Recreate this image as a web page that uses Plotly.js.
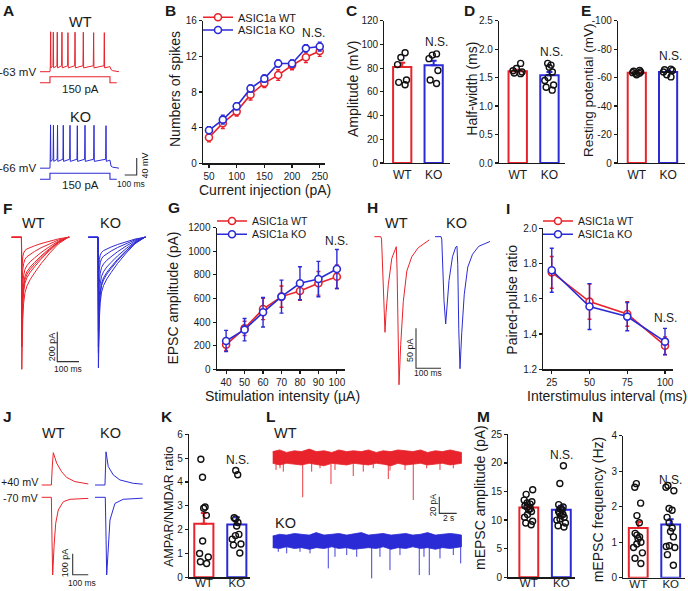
<!DOCTYPE html>
<html><head><meta charset="utf-8">
<script src="https://cdn.plot.ly/plotly-3.0.1.min.js"></script>
<style>html,body{margin:0;padding:0;background:#fff;}#chart{width:688px;height:591px;}</style>
</head><body><div id="chart"></div>
<script>
// ================= DATA =================
// A: evoked firing (time ms, membrane potential mV), 150 pA step
const A_WT_SPIKE_T = [89, 111, 144, 183, 233, 292, 361, 447, 536];
const A_WT_SPIKE_PEAK = [31, 30, 30, 30, 29, 30, 30, 29, 29];
const A_KO_SPIKE_T = [88, 112, 146, 194, 250, 311, 375, 450, 550];
const A_KO_SPIKE_PEAK = [36, 35, 35, 35, 35, 34, 35, 35, 34];
const A_REST = [-63, -66];
const A_INTERSPIKE = [-49, -45];
const A_STEP_T = [0, 83, 83, 583, 583, 640];
const A_STEP_PA = [0, 0, 150, 150, 0, 0];
const A_SCALE = [100, 40];          // ms, mV

// B: spikes vs current injection
const B_CURRENT = [50, 75, 100, 125, 150, 175, 200, 225, 250];
const B_WT = [2.9, 4.5, 5.8, 7.7, 9.0, 9.9, 11.0, 11.9, 12.6];
const B_WT_SEM = [0.5, 0.6, 0.5, 0.6, 0.5, 0.6, 0.5, 0.6, 0.6];
const B_KO = [3.7, 4.9, 6.4, 8.4, 9.5, 11.2, 11.2, 12.9, 13.1];
const B_KO_SEM = [0.4, 0.5, 0.4, 0.4, 0.4, 0.4, 0.4, 0.4, 0.5];

const GROUPS = ['WT', 'KO'];
const SERIES = ['ASIC1a WT', 'ASIC1a KO'];
// C: AP amplitude (mV)
const C_MEAN = [81, 82.5], C_SEM = [3.5, 3.8];
const C_WT = [93, 89, 83, 70, 68, 66];
const C_KO = [92, 91, 88, 78, 70, 67];
// D: half-width (ms)
const D_MEAN = [1.61, 1.54], D_SEM = [0.03, 0.06];
const D_WT = [1.75, 1.66, 1.62, 1.6, 1.58, 1.57];
const D_KO = [1.75, 1.72, 1.68, 1.6, 1.5, 1.45, 1.37, 1.33, 1.28];
// E: resting potential (mV)
const E_MEAN = [-63.5, -64], E_SEM = [0.5, 0.9];
const E_WT = [-62, -63, -63.5, -64, -64.5, -65, -63];
const E_KO = [-66, -65.5, -65, -64, -62, -60.5];

// F: EPSC families (pA), normalized EPSC waveform
const F_WT_AMP = [210, 350, 510, 620, 670, 730, 880];
const F_KO_AMP = [240, 340, 480, 620, 730, 770, 870];
const F_SHAPE_T = [0, 1.5, 3, 6, 10, 16, 25, 40, 60, 90, 130, 170, 215];
const F_SHAPE_V = [0, -1, -0.82, -0.62, -0.5, -0.42, -0.37, -0.32, -0.27, -0.2, -0.12, -0.05, 0];
const F_ONSET = 45, F_DUR = 265;
const F_SCALE = [100, 200];         // ms, pA

// G: input-output
const G_INTENSITY = [40, 50, 60, 70, 80, 90, 100];
const G_WT = [209, 347, 511, 616, 664, 729, 785];
const G_WT_SEM = [50, 60, 90, 90, 80, 100, 100];
const G_KO = [240, 336, 483, 616, 729, 765, 850];
const G_KO_SEM = [90, 95, 125, 140, 140, 150, 165];

// H: paired-pulse traces (ms, pA)
const H_WT_T = [0, 26, 29, 33, 38, 42.8, 47, 56, 70, 83, 88, 91, 95, 98.8, 105.6, 116, 130, 150, 176, 220];
const H_WT_V = [0, 0, -3, -40, -90, -119.5, -95, -60, -27, -14.5, -12.5, -40, -130, -185, -135, -81, -43, -25, -13.7, -4];
const H_KO_T = [0, 24, 27, 31, 36, 42.8, 47, 56, 70, 83, 88, 91, 95, 100, 107, 117, 131, 150, 175, 220];
const H_KO_V = [0, 0, -3, -35, -80, -109, -88, -55, -25, -13, -12, -35, -115, -165, -120, -72, -38, -22, -12, -6];
const H_SCALE = [100, 50];

// I: paired-pulse ratio
const I_INTERVAL = [25, 50, 75, 100];
const I_WT = [1.750, 1.584, 1.514, 1.334];
const I_WT_SEM = [0.09, 0.10, 0.07, 0.05];
const I_KO = [1.762, 1.556, 1.499, 1.357];
const I_KO_SEM = [0.125, 0.13, 0.08, 0.075];

// J: AMPAR (-70 mV) and NMDAR (+40 mV) currents (ms, pA)
const J_WT_NEG_T = [0, 62, 66, 70.5, 79, 89.7, 106.4, 138.5, 181, 298.7];
const J_WT_NEG_V = [0, 0, -200, -370, -235, -124, -60, -21, -9.5, -5];
const J_WT_POS_T = [0, 62, 68, 74.4, 96, 128, 160, 213, 298.7];
const J_WT_POS_V = [0, 0, 90, 154, 104, 63, 36, 16, 5];
const J_KO_NEG_T = [0, 66, 71, 75, 96, 128, 181, 305.8];
const J_KO_NEG_V = [0, 0, -200, -370, -108, -29, -9.5, -4];
const J_KO_POS_T = [0, 64, 68, 70.5, 85, 117, 160, 245, 305.8];
const J_KO_POS_V = [0, 0, 100, 158, 88, 48, 24, 8, 4];
const J_SCALE = [100, 100];

// K: AMPAR/NMDAR ratio
const K_MEAN = [2.25, 2.22], K_SEM = [0.45, 0.3];
const K_WT = [4.95, 4.2, 2.95, 2.9, 2.6, 1.52, 1.0, 0.85, 0.65, 0.58];
const K_KO = [4.48, 4.3, 2.5, 2.45, 2.3, 2.15, 1.8, 1.75, 1.6, 1.4, 1.35, 1.02];

// L: mEPSC recordings (s, pA): noise envelope + events
const L_ENV_T = [0, 0.8, 1.6, 2.5, 3.3, 4.2, 5.0, 5.9, 6.8, 7.6, 8.5, 9.3, 10.2, 11.0, 11.9, 12.7, 13.6, 14.4, 15.3, 16.1, 17.0, 17.8, 18.7, 19.5, 20.4, 21.2, 21.7];
const L_WT_UP = [8, 10, 7, 9, 8, 11, 8, 9, 7, 10, 8, 9, 8, 10, 7, 9, 8, 10, 9, 8, 10, 7, 9, 8, 10, 8, 7];
const L_WT_LO = [-6, -8, -6, -7, -8, -6, -7, -9, -6, -7, -8, -6, -7, -8, -6, -7, -9, -6, -8, -7, -6, -8, -7, -6, -8, -7, -6];
const L_KO_UP = [7, 9, 8, 10, 9, 8, 11, 8, 9, 10, 8, 9, 11, 8, 9, 10, 8, 9, 10, 8, 9, 11, 8, 9, 10, 9, 8];
const L_KO_LO = [-7, -8, -6, -8, -7, -9, -7, -8, -6, -8, -7, -9, -8, -7, -8, -6, -9, -7, -8, -6, -8, -7, -9, -7, -8, -7, -6];
const L_WT_EVT_T = [0.38, 0.84, 1.22, 3.45, 4.48, 5.44, 6.70, 7.16, 9.26, 10.41, 11.56, 13.29, 13.48, 15.21, 16.16, 17.70, 19.23, 20.76];
const L_WT_EVT_A = [-14, -12, -16, -46.7, -16, -12, -30.8, -14, -21.2, -16, -12, -24.8, -14.8, -14, -50, -12, -14, -12];
const L_KO_EVT_T = [0.64, 1.61, 3.14, 4.29, 6.39, 7.16, 8.51, 9.66, 11.38, 12.33, 13.48, 14.63, 16.85, 17.39, 18.0, 19.23, 20.76, 21.61];
const L_KO_EVT_A = [-12, -13.9, -12, -13.9, -31.9, -18, -15.9, -18, -43.8, -18, -33.9, -15.9, -39.9, -18, -39.9, -19.9, -15.9, -25.9];
const L_SCALE = [2, 20];            // s, pA

// M: mEPSC amplitude (pA)
const M_MEAN = [12.2, 11.8], M_SEM = [0.5, 0.7];
const M_WT = [15.3, 14.5, 13.5, 13.2, 13, 12.8, 12.5, 12.3, 12, 11.8, 11.5, 11, 10.5, 9.8, 9.5, 9.2];
const M_KO = [19.5, 16.4, 12.7, 12.3, 12, 11.8, 11.5, 11.2, 11, 10.8, 10.5, 10.2, 10, 9.5, 9, 8.8];
// N: mEPSC frequency (Hz)
const N_MEAN = [1.4, 1.5], N_SEM = [0.17, 0.15];
const N_WT = [2.65, 2.55, 2.1, 1.75, 1.55, 1.25, 1.2, 1.15, 1.1, 1.0, 0.95, 0.85, 0.7, 0.55, 0.4];
const N_KO = [2.6, 2.55, 2.45, 1.95, 1.9, 1.7, 1.55, 1.4, 1.3, 1.15, 0.9, 0.88, 0.85, 0.65, 0.35];

// ================= STYLE / HELPERS =================
const FONT = '"Liberation Sans", Arial, Helvetica, sans-serif';
const RED = '#e8232b', BLUE = '#2b2bd6', INK = '#1a1a1a', SB = '#333333';
const W = 688, H = 591;
const px = x => x / W, py = y => 1 - y / H;
const xd = (a, b) => [a / W, b / W], yd = (t, b) => [1 - b / H, 1 - t / H];
const sid = n => (n === 1 ? '' : String(n));

const traces = [], ann = [];
const layout = {
  width: W, height: H, margin: {l: 0, r: 0, t: 0, b: 0},
  paper_bgcolor: '#ffffff', plot_bgcolor: 'rgba(0,0,0,0)',
  barmode: 'overlay', showlegend: true, hovermode: false,
  font: {family: FONT, color: INK, size: 12},
  annotations: ann
};

function axisStyle(extra) {
  return Object.assign({showline: true, linecolor: INK, linewidth: 1.2, ticks: 'outside', ticklen: 3,
    tickwidth: 1.2, tickcolor: INK, showgrid: false, zeroline: false, fixedrange: true, tickangle: 0,
    tickfont: {size: 10, color: INK}}, extra);
}
function hidden(n, xdom, xr, ydom, yr) {
  const s = sid(n);
  layout['xaxis' + s] = {domain: xdom, range: xr, visible: false, fixedrange: true, anchor: 'y' + s};
  layout['yaxis' + s] = {domain: ydom, range: yr, visible: false, fixedrange: true, anchor: 'x' + s};
}
function line(n, x, y, color, width, extra) {
  traces.push(Object.assign({type: 'scatter', mode: 'lines', x: x, y: y, xaxis: 'x' + sid(n), yaxis: 'y' + sid(n),
    line: {color: color, width: width}, showlegend: false, hoverinfo: 'skip'}, extra || {}));
}
function scaleBar(n, cx, cy, w, h, leftCorner) {
  if (leftCorner) line(n, [cx, cx, cx + w], [cy + h, cy, cy], SB, 1.1);
  else line(n, [cx - w, cx, cx], [cy, cy, cy + h], SB, 1.1);
}
function T(text, x, y, size, o) {
  ann.push(Object.assign({text: text, x: px(x), y: py(y), xref: 'paper', yref: 'paper', showarrow: false,
    xanchor: 'center', yanchor: 'middle', font: {size: size, color: INK, family: FONT}}, o || {}));
}
// axis titles (placed as text at the reference position)
function yTitle(text, x, y, size) { T(text, x, y, size || 14, {textangle: -90}); }
function xTitle(text, x, y, size) { T(text, x, y, size || 14); }
function shift(arr, d) { return arr.map(v => v + d); }
function scale(arr, k) { return arr.map(v => v * k); }

// ================= A =================
hidden(1, xd(35, 150), [-41.7, 916.7], yd(25, 195), [-353.1, 46.9]);
const A_KO_OFFSET = -224, A_I_BASE = [-89, -316], A_I_SCALE = 0.094;
function spikeTrain(rest, inter, st, sp) {
  const t = [0, 83], v = [rest, rest];
  st.forEach((s, i) => { t.push(s - 3, s, s + 2.5); v.push(inter, sp[i], inter - 5); });
  t.push(583, 592, 605, 625, 658); v.push(inter - 2, rest + 5, rest + 2.5, rest + 1, rest);
  return [t, v];
}
const aw = spikeTrain(A_REST[0], A_INTERSPIKE[0], A_WT_SPIKE_T, A_WT_SPIKE_PEAK);
const ak = spikeTrain(A_REST[1], A_INTERSPIKE[1], A_KO_SPIKE_T, A_KO_SPIKE_PEAK);
line(1, aw[0], aw[1], RED, 1);
line(1, ak[0], shift(ak[1], A_KO_OFFSET), BLUE, 1);
line(1, A_STEP_T, shift(scale(A_STEP_PA, A_I_SCALE), A_I_BASE[0]), RED, 1.1);
line(1, A_STEP_T, shift(scale(A_STEP_PA, A_I_SCALE), A_I_BASE[1]), BLUE, 1.1);
scaleBar(1, 806, -306, A_SCALE[0], A_SCALE[1], false);
T('WT', 80, 21.7, 14.5); T('KO', 80, 117.3, 14.5);
T('-63 mV', 37.5, 71.7, 11.5, {xanchor: 'right'}); T('-66 mV', 37.5, 168.3, 11.5, {xanchor: 'right'});
T('150 pA', 80, 89.3, 11.5); T('150 pA', 80, 185, 11.5);
T('40 mV', 144.5, 166, 9, {textangle: -90}); T('100 ms', 131, 183.5, 8.5);

// ================= B =================
layout.xaxis2 = axisStyle({domain: xd(203, 325), range: [39.2, 259.5], anchor: 'y2', tick0: 50, dtick: 50});
layout.yaxis2 = axisStyle({domain: yd(20.7, 163.3), range: [0, 16], anchor: 'x2', dtick: 4});
xTitle('Current injection (pA)', 265, 189.5); yTitle('Numbers of spikes', 175, 89);
function series(n, x, y, e, color, name, legend) {
  traces.push({type: 'scatter', mode: 'lines+markers', x: x, y: y, name: name, legend: legend,
    xaxis: 'x' + sid(n), yaxis: 'y' + sid(n), showlegend: true, hoverinfo: 'skip',
    line: {color: color, width: 1.6}, marker: {symbol: 'circle', size: 7, color: '#fff', line: {color: color, width: 1.6}},
    error_y: {type: 'data', array: e, visible: true, color: color, thickness: 1.4, width: 2}});
}
series(2, B_CURRENT, B_WT, B_WT_SEM, RED, SERIES[0], 'legend');
series(2, B_CURRENT, B_KO, B_KO_SEM, BLUE, SERIES[1], 'legend2');
function leg(textX, cy, size) {
  return {x: px(textX - 40), y: py(cy), xanchor: 'left', yanchor: 'middle', bgcolor: 'rgba(0,0,0,0)',
    borderwidth: 0, font: {size: size, color: INK, family: FONT}, itemwidth: 30, tracegroupgap: 0};
}
layout.legend = leg(238, 17.3, 11); layout.legend2 = leg(238, 30, 11);
T('N.S.', 313, 33.3, 12);

// ================= C, D, E, K, M, N (bar + scatter) =================
function barPanel(n, xdom, xr, ydom, yr, means, sems, wt, ko, yExtra, rev, xExtra) {
  const s = sid(n);
  layout['xaxis' + s] = axisStyle(Object.assign({domain: xdom, range: xr, anchor: 'y' + s, tickvals: [0, 1], ticktext: GROUPS,
    ticks: '', ticklen: 0, tickfont: {size: 12, color: INK}}, xExtra || {}));
  layout['yaxis' + s] = axisStyle(Object.assign({domain: ydom, range: yr, anchor: 'x' + s}, yExtra));
  [0, 1].forEach(i => {
    const c = i ? BLUE : RED;
    traces.push({type: 'bar', x: [i], y: [means[i]], width: 0.58, xaxis: 'x' + s, yaxis: 'y' + s, showlegend: false,
      hoverinfo: 'skip', marker: {color: 'rgba(255,255,255,0)', line: {color: c, width: 2}},
      error_y: {type: 'data', symmetric: false, array: [rev ? 0 : sems[i]], arrayminus: [rev ? sems[i] : 0],
        color: c, thickness: 2, width: 3}});
  });
  [wt, ko].forEach((p, i) => {
    traces.push({type: 'box', x0: i, y: p, xaxis: 'x' + s, yaxis: 'y' + s, showlegend: false, hoverinfo: 'skip',
      boxpoints: 'all', jitter: 0.7, pointpos: 0, width: 0.5, fillcolor: 'rgba(0,0,0,0)',
      line: {width: 0, color: 'rgba(0,0,0,0)'}, whiskerwidth: 0,
      marker: {symbol: 'circle-open', size: 6, color: '#111', line: {width: 1.4}}});
  });
}
barPanel(3, xd(384.3, 450), [-0.57, 1.52], yd(20.7, 163), [0, 120], C_MEAN, C_SEM, C_WT, C_KO, {dtick: 20});
barPanel(4, xd(499, 565), [-0.59, 1.49], yd(20.7, 163), [0, 2.5], D_MEAN, D_SEM, D_WT, D_KO,
  {dtick: 0.5, tickformat: '.1f'});
barPanel(5, xd(618, 685), [-0.6, 1.54], yd(20.7, 163), [0, -100], E_MEAN, E_SEM, E_WT, E_KO,
  {tickvals: [0, -20, -40, -60, -80, -100], ticktext: ['0', '-20', '-40', '-60', '-80', '-100']}, true);
yTitle('Amplitude (mV)', 353, 89); yTitle('Half-width (ms)', 471.7, 89); yTitle('Resting potential (mV)', 588, 90, 13.5);
T('N.S.', 436, 41.7, 12); T('N.S.', 551.7, 51.7, 12); T('N.S.', 670, 56, 12);

const LOW = {ticklabelstandoff: -5, tickfont: {size: 11.5, color: INK}};
barPanel(11, xd(189, 250), [-0.45, 1.4], yd(434.3, 577.3), [0, 6], K_MEAN, K_SEM, K_WT, K_KO,
  {dtick: 1}, false, LOW);
barPanel(13, xd(508.3, 575), [-0.63, 1.42], yd(434.3, 577.3), [0, 25], M_MEAN, M_SEM, M_WT, M_KO,
  {dtick: 5}, false, LOW);
barPanel(14, xd(623.3, 685), [-0.46, 1.44], yd(435.7, 577.7), [0, 4], N_MEAN, N_SEM, N_WT, N_KO,
  {dtick: 1}, false, LOW);
yTitle('AMPAR/NMDAR ratio', 168.3, 506.7, 12.5); yTitle('mEPSC amplitude (pA)', 480, 498); yTitle('mEPSC frequency (Hz)', 598.3, 510);
T('N.S.', 237.3, 460, 12); T('N.S.', 561.7, 455, 12); T('N.S.', 670, 480, 12);

// ================= F =================
hidden(6, xd(5, 150), [-30.9, 637.3], yd(215, 380), [-951.3, 148.7]);
const F_KO_SHIFT = 353;
function epsc(amp, t0) {
  return [[t0, t0 + F_ONSET].concat(F_SHAPE_T.map(s => t0 + F_ONSET + s)).concat([t0 + F_DUR]),
          [0, 0].concat(F_SHAPE_V.map(s => s * amp)).concat([0])];
}
F_WT_AMP.forEach(a => { const e = epsc(a, 0); line(6, e[0], e[1], RED, 1); });
F_KO_AMP.forEach(a => { const e = epsc(a, F_KO_SHIFT); line(6, e[0], e[1], BLUE, 1); });
scaleBar(6, 210, -829, F_SCALE[0], F_SCALE[1], true);
T('WT', 33.3, 223.3, 14.5); T('KO', 110, 223.3, 14.5);
T('200 pA', 51.5, 346.7, 9, {textangle: -90}); T('100 ms', 68.3, 368.5, 8.5);

// ================= G =================
layout.xaxis7 = axisStyle({domain: xd(216.7, 345), range: [34.9, 104.4], anchor: 'y7', tick0: 40, dtick: 10});
layout.yaxis7 = axisStyle({domain: yd(227.7, 369.3), range: [0, 1200], anchor: 'x7', dtick: 200});
xTitle('Stimulation intensity (\u00b5A)', 282, 395.5); yTitle('EPSC amplitude (pA)', 173.3, 298.3);
series(7, G_INTENSITY, G_WT, G_WT_SEM, RED, SERIES[0], 'legend3');
series(7, G_INTENSITY, G_KO, G_KO_SEM, BLUE, SERIES[1], 'legend4');
layout.legend3 = leg(252, 221, 10.5); layout.legend4 = leg(252, 234.3, 10.5);
T('N.S.', 336, 240.7, 12);

// ================= H =================
hidden(8, xd(370, 495), [-17.2, 482.8], yd(215, 390), [-191.6, 27.1]);
const H_KO_SHIFT = 242.8;
line(8, H_WT_T, H_WT_V, RED, 1);
line(8, shift(H_KO_T, H_KO_SHIFT), H_KO_V, BLUE, 1);
scaleBar(8, 166.8, -164.5, H_SCALE[0], H_SCALE[1], true);
T('WT', 396.7, 223.3, 14.5); T('KO', 456.7, 223.3, 14.5);
T('50 pA', 410, 350, 9, {textangle: -90}); T('100 ms', 427.5, 373.5, 8.5);

// ================= I =================
layout.xaxis9 = axisStyle({domain: xd(543.3, 672.7), range: [19.4, 105.1], anchor: 'y9', tickvals: I_INTERVAL});
layout.yaxis9 = axisStyle({domain: yd(228.3, 369.3), range: [1.2, 2.0], anchor: 'x9', dtick: 0.2, tickformat: '.1f'});
xTitle('Interstimulus interval (ms)', 607, 395.5); yTitle('Paired-pulse ratio', 511.7, 300);
series(9, I_INTERVAL, I_WT, I_WT_SEM, RED, SERIES[0], 'legend5');
series(9, I_INTERVAL, I_KO, I_KO_SEM, BLUE, SERIES[1], 'legend6');
layout.legend5 = leg(578, 221, 10.5); layout.legend6 = leg(578, 234.3, 10.5);
T('N.S.', 665, 318.3, 12);

// ================= J =================
hidden(10, xd(38, 150), [-23.7, 694.3], yd(440, 585), [-417.6, 272.9]);
const J_POS_OFFSET = 58.6, J_KO_SHIFT = 341.7;
line(10, J_WT_POS_T, shift(J_WT_POS_V, J_POS_OFFSET), RED, 1);
line(10, J_WT_NEG_T, J_WT_NEG_V, RED, 1);
line(10, shift(J_KO_POS_T, J_KO_SHIFT), shift(J_KO_POS_V, J_POS_OFFSET), BLUE, 1);
line(10, shift(J_KO_NEG_T, J_KO_SHIFT), J_KO_NEG_V, BLUE, 1);
scaleBar(10, 198.7, -369, J_SCALE[0], J_SCALE[1], true);
T('WT', 53.3, 433.3, 14.5); T('KO', 110, 433.3, 14.5);
T('+40 mV', 40.5, 482.2, 10.8, {xanchor: 'right'}); T('-70 mV', 40.5, 497.8, 10.8, {xanchor: 'right'});
T('100 pA', 65, 563.3, 9, {textangle: -90}); T('100 ms', 81.7, 583, 8.5);

// ================= L =================
hidden(12, xd(265, 470), [-0.885, 22.68], yd(440, 585), [-151.75, 21.9]);
const L_KO_OFFSET = -100;
function band(up, lo, off, color) {
  const x = L_ENV_T.concat(L_ENV_T.slice().reverse());
  const y = shift(up, off).concat(shift(lo, off).reverse());
  line(12, x, y, color, 0.8, {fill: 'toself', fillcolor: color});
}
function events(ts, as, off, color) {
  const x = [], y = [];
  ts.forEach((t, i) => { x.push(t, t, null); y.push(off - 5, off + as[i], null); });
  line(12, x, y, color, 0.9);
}
band(L_WT_UP, L_WT_LO, 0, RED); events(L_WT_EVT_T, L_WT_EVT_A, 0, RED);
band(L_KO_UP, L_KO_LO, L_KO_OFFSET, BLUE); events(L_KO_EVT_T, L_KO_EVT_A, L_KO_OFFSET, BLUE);
scaleBar(12, 19.15, -66, L_SCALE[0], L_SCALE[1], true);
T('WT', 285, 433.3, 14.5); T('KO', 285, 523.3, 14.5);
T('20 pA', 433.3, 505, 8.5, {textangle: -90}); T('2 s', 448, 518, 8.5);

// ================= panel letters =================
[['A', 8.7, 10], ['B', 170, 10], ['C', 351, 10], ['D', 469.7, 10], ['E', 586.3, 10],
 ['F', 7.2, 208.3], ['G', 173.8, 207.7], ['H', 372.5, 207.7], ['I', 507.5, 208],
 ['J', 7.5, 416.7], ['K', 167, 416.7], ['L', 270.8, 416.7], ['M', 483.3, 416.7], ['N', 597.5, 416.7]]
  .forEach(l => T('<b>' + l[0] + '</b>', l[1], l[2], 15.5));

Plotly.newPlot('chart', traces, layout, {staticPlot: true, displayModeBar: false});
</script></body></html>
